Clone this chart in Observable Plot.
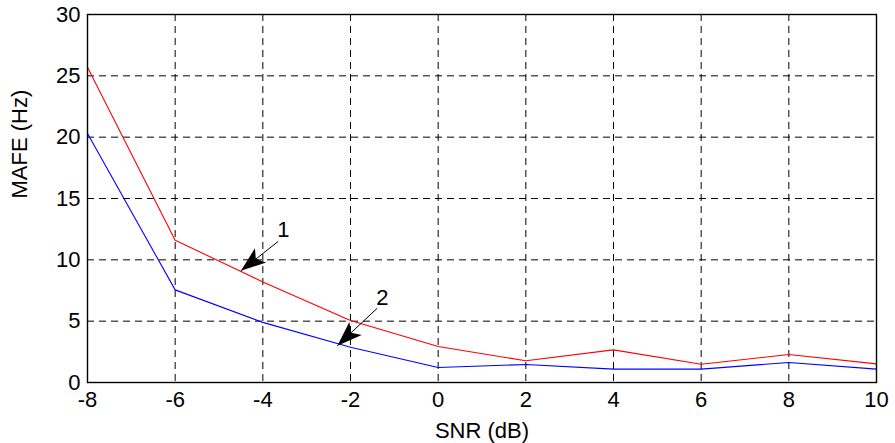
<!DOCTYPE html>
<html>
<head>
<meta charset="utf-8">
<script src="https://cdn.jsdelivr.net/npm/d3@7"></script>
<script src="https://cdn.jsdelivr.net/npm/@observablehq/plot@0.6"></script>
<style>
  html, body { margin: 0; padding: 0; background: #fff; }
</style>
</head>
<body>
<div id="chart"></div>
<script>
// ---- data ----
const snr = [-8, -6, -4, -2, 0, 2, 4, 6, 8, 10];
const mafe1 = [25.7, 11.6, 8.2, 5.05, 2.93, 1.77, 2.66, 1.49, 2.28, 1.52];
const mafe2 = [20.3, 7.55, 4.9, 2.88, 1.22, 1.47, 1.09, 1.09, 1.63, 1.09];
const xTicks = [-8, -6, -4, -2, 0, 2, 4, 6, 8, 10];
const yTicks = [0, 5, 10, 15, 20, 25, 30];
const xLabel = "SNR (dB)";
const yLabel = "MAFE (Hz)";
// annotations: label, label position, arrow tail, arrow tip (data units)
const annLabels = ["1", "2"];
const annTextX = [-3.53, -1.27];
const annTextY = [12.4, 6.87];
const annTailX = [-3.65, -1.39];
const annTailY = [11.5, 6.06];
const annTipX = [-4.5, -2.3];
const annTipY = [9.1, 3.0];

// ---- layout ----
const W = 895, H = 443;
const mL = 87, mR = 19, mT = 14, mB = 61;
const xDomain = [-8, 10], yDomain = [0, 30];

const series = [
  ...snr.map((x, i) => ({x, y: mafe1[i], s: "1"})),
  ...snr.map((x, i) => ({x, y: mafe2[i], s: "2"}))
];

// pixel-space helpers mirroring the plot's scales, only to orient arrowheads
const px = d3.scaleLinear(xDomain, [mL, W - mR]);
const py = d3.scaleLinear(yDomain, [H - mB, mT]);
const ann = annLabels.map((t, i) => ({
  t,
  tx: annTextX[i], ty: annTextY[i],
  x1: annTailX[i], y1: annTailY[i],
  x2: annTipX[i], y2: annTipY[i],
  angle: Math.atan2(py(annTipY[i]) - py(annTailY[i]), px(annTipX[i]) - px(annTailX[i])) * 180 / Math.PI
}));

const arrowHead = {
  draw(ctx) {
    ctx.moveTo(0, 0);
    ctx.lineTo(-25, -9);
    ctx.lineTo(-19, 0);
    ctx.lineTo(-25, 9);
    ctx.closePath();
  }
};

const font = "'Liberation Sans', Arial, Helvetica, sans-serif";
const fs = 22;

const chart = Plot.plot({
  width: W,
  height: H,
  marginLeft: mL,
  marginRight: mR,
  marginTop: mT,
  marginBottom: mB,
  style: {fontFamily: font, fontSize: fs + "px", background: "#fff", color: "#000", overflow: "visible"},
  x: {domain: xDomain, label: null},
  y: {domain: yDomain, label: null},
  marks: [
    Plot.gridX(xTicks, {stroke: "#000", strokeOpacity: 1, strokeWidth: 1, strokeDasharray: "7,5"}),
    Plot.gridY(yTicks, {stroke: "#000", strokeOpacity: 1, strokeWidth: 1, strokeDasharray: "7,5"}),
    Plot.axisX({ticks: xTicks, tickSize: 0, tickPadding: 9, tickFormat: d => String(d), fontSize: fs}),
    Plot.axisY({ticks: yTicks, tickSize: 0, tickPadding: 7, tickFormat: d => String(d), fontSize: fs}),
    Plot.line(series, {x: "x", y: "y", z: "s", stroke: d => d.s === "1" ? "#ff0000" : "#0000ff", strokeWidth: 1.1}),
    Plot.link(ann, {x1: "x1", y1: "y1", x2: "x2", y2: "y2", stroke: "#000", strokeWidth: 1}),
    Plot.dot(ann, {x: "x2", y: "y2", symbol: arrowHead, rotate: "angle", fill: "#000", stroke: "none"}),
    Plot.text(ann, {x: "tx", y: "ty", text: "t", fontSize: fs, fill: "#000"}),
    Plot.text([xLabel], {frameAnchor: "bottom", lineAnchor: "middle", dy: 48, text: d => d, fontSize: fs, fill: "#000"}),
    Plot.text([yLabel], {frameAnchor: "left", lineAnchor: "middle", dx: -68, rotate: -90, text: d => d, fontSize: fs, fill: "#000"}),
    Plot.frame({stroke: "#000", strokeWidth: 1.4})
  ]
});
document.getElementById("chart").appendChild(chart);
</script>
</body>
</html>
